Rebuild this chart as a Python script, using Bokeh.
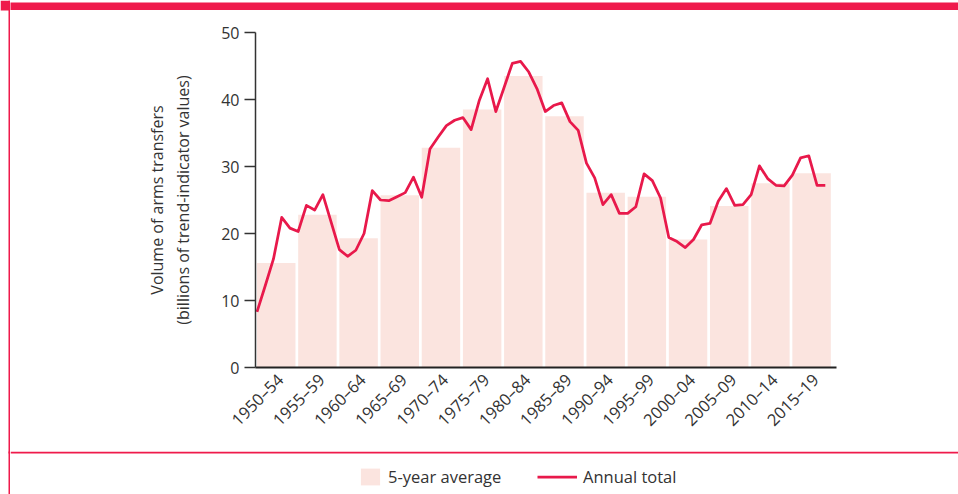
from math import pi
from bokeh.plotting import figure
from bokeh.layouts import row, column
from bokeh.models import (Range1d, FixedTicker, BoxAnnotation, Legend,
                          LegendItem, ColumnDataSource)
from bokeh.embed import file_html
from bokeh.resources import INLINE

# ---------------- data ----------------
period_labels = ["1950–54", "1955–59", "1960–64", "1965–69", "1970–74", "1975–79",
                 "1980–84", "1985–89", "1990–94", "1995–99", "2000–04", "2005–09",
                 "2010–14", "2015–19"]
period_start = [1950, 1955, 1960, 1965, 1970, 1975, 1980, 1985, 1990, 1995,
                2000, 2005, 2010, 2015]
five_year_avg = [15.6, 22.8, 19.3, 25.7, 32.8, 38.5, 43.5, 37.5, 26.1, 25.5,
                 19.1, 24.1, 27.5, 29.0]

years = list(range(1950, 2020))
annual_total = [8.3, 12.2, 16.2, 22.4, 20.8,
                20.3, 24.2, 23.5, 25.8, 21.7,
                17.6, 16.6, 17.5, 20.0, 26.4,
                25.0, 24.9, 25.5, 26.1, 28.4,
                25.4, 32.6, 34.4, 36.1, 36.9,
                37.3, 35.5, 39.9, 43.1, 38.2,
                41.8, 45.4, 45.7, 44.1, 41.6,
                38.2, 39.1, 39.5, 36.7, 35.4,
                30.5, 28.3, 24.3, 25.8, 23.0,
                23.0, 24.0, 28.9, 27.9, 25.3,
                19.4, 18.8, 17.9, 19.1, 21.3,
                21.5, 24.8, 26.7, 24.2, 24.3,
                25.8, 30.1, 28.2, 27.2, 27.1,
                28.7, 31.3, 31.6, 27.2, 27.2]
y_ticks = [0, 10, 20, 30, 40, 50]
legend_labels = ["5-year average", "Annual total"]

# ---------------- style ----------------
RED = "#ef1a4b"
LINE_RED = "#e8194b"
BAR_FILL = "#fbe4df"
TEXT = "#333333"
FONT = "Open Sans"

PAGE_W, PAGE_H = 958, 494
LEFT_W = 10          # strip holding the red left rule
BAND_H = 10          # red top band
LEG_H = 43           # legend strip below the red rule
MAIN_W = PAGE_W - LEFT_W
MAIN_H = PAGE_H - BAND_H - LEG_H

X0, X1 = 1949.818, 2020.36
FRAME_L, FRAME_R, FRAME_T, FRAME_B = 245, 826, 22, 357

PERIOD = 5
BAR_W = 4.67


def decor_fig(w, h, fill="white"):
    f = figure(width=w, height=h, output_backend="svg", toolbar_location=None,
               x_range=Range1d(0, w), y_range=Range1d(0, h),
               x_axis_location=None, y_axis_location=None,
               min_border=0, min_border_left=0, min_border_right=0,
               min_border_top=0, min_border_bottom=0, frame_align=False)
    f.outline_line_color = None
    f.grid.visible = False
    f.background_fill_color = fill
    f.border_fill_color = fill
    return f


def red_box(l, r, b, t):
    return BoxAnnotation(left=l, right=r, bottom=b, top=t, fill_color=RED,
                         fill_alpha=1, line_color=None)


# ---------------- main chart ----------------
bar_src = ColumnDataSource(dict(
    x=[s + BAR_W / 2 for s in period_start],
    top=five_year_avg,
))
line_src = ColumnDataSource(dict(x=years, y=annual_total))

p = figure(width=MAIN_W, height=MAIN_H, output_backend="svg", toolbar_location=None,
           x_range=Range1d(X0, X1), y_range=Range1d(0, 50), frame_align=False,
           min_border_left=FRAME_L, min_border_right=MAIN_W - FRAME_R,
           min_border_top=FRAME_T, min_border_bottom=MAIN_H - FRAME_B)
p.outline_line_color = None
p.grid.visible = False
p.background_fill_color = "white"
p.border_fill_color = "white"

bars = p.vbar(x="x", top="top", bottom=0, width=BAR_W, source=bar_src,
              fill_color=BAR_FILL, line_color=None)
line = p.line(x="x", y="y", source=line_src, line_color=LINE_RED, line_width=2.75,
              line_join="round")

xa = p.xaxis[0]
tick_pos = [s + 2.8 for s in period_start]
xa.ticker = FixedTicker(ticks=tick_pos)
xa.major_label_overrides = {t: lab for t, lab in zip(tick_pos, period_labels)}
xa.major_label_orientation = pi / 4
xa.major_tick_line_color = None
xa.minor_tick_line_color = None
xa.major_tick_out = 0
xa.major_tick_in = 0
xa.major_label_standoff = 9
xa.axis_line_color = "#222222"
xa.axis_line_width = 2
xa.major_label_text_font = FONT
xa.major_label_text_font_size = "16.5px"
xa.major_label_text_color = TEXT

ya = p.yaxis[0]
ya.ticker = FixedTicker(ticks=y_ticks)
ya.minor_tick_line_color = None
ya.major_tick_out = 11
ya.major_tick_in = 0
ya.major_tick_line_color = "#333333"
ya.major_tick_line_width = 1.5
ya.axis_line_color = "#333333"
ya.axis_line_width = 1.5
ya.major_label_standoff = 5
ya.major_label_text_font = FONT
ya.major_label_text_font_size = "16px"
ya.major_label_text_color = TEXT
ya.axis_label = "Volume of arms transfers\n(billions of trend-indicator values)"
ya.axis_label_text_font = FONT
ya.axis_label_text_font_size = "16px"
ya.axis_label_text_font_style = "normal"
ya.axis_label_text_color = TEXT
ya.axis_label_standoff = 24
ya.axis_label_text_align = "center"

# ---------------- decorations ----------------
top_band = decor_fig(MAIN_W, BAND_H, fill=RED)

left = decor_fig(LEFT_W, PAGE_H)
left.add_layout(red_box(8, 9.6, 0, PAGE_H))
left.add_layout(red_box(0, LEFT_W, PAGE_H - BAND_H, PAGE_H))
left.add_layout(red_box(8, LEFT_W, LEG_H - 2, LEG_H))

# ---------------- legend strip ----------------
lf = decor_fig(MAIN_W, LEG_H)
lf.add_layout(red_box(0, MAIN_W, LEG_H - 2, LEG_H))
# legend-only stand-in glyphs, placed outside the visible range
off = -100
leg_bar = lf.vbar(x=[off], top=[1], bottom=0, width=1,
                  fill_color=BAR_FILL, line_color=None)
leg_line = lf.line(x=[off, off - 1], y=[1, 1], line_color=LINE_RED, line_width=2.75)

common = dict(orientation="horizontal", glyph_height=21, label_height=21,
              label_standoff=6, padding=0, margin=0, spacing=0,
              label_text_font=FONT, label_text_font_size="16.5px",
              label_text_color=TEXT, background_fill_alpha=0,
              border_line_alpha=0)
leg1 = Legend(items=[LegendItem(label=legend_labels[0], renderers=[leg_bar])],
              location=(348, 6), glyph_width=24, **common)
leg2 = Legend(items=[LegendItem(label=legend_labels[1], renderers=[leg_line])],
              location=(527, 6), glyph_width=40, **common)
lf.add_layout(leg1, "center")
lf.add_layout(leg2, "center")

layout = row(left, column(top_band, p, lf, spacing=0), spacing=0)

open("out.html", "w").write(file_html(layout, INLINE))
